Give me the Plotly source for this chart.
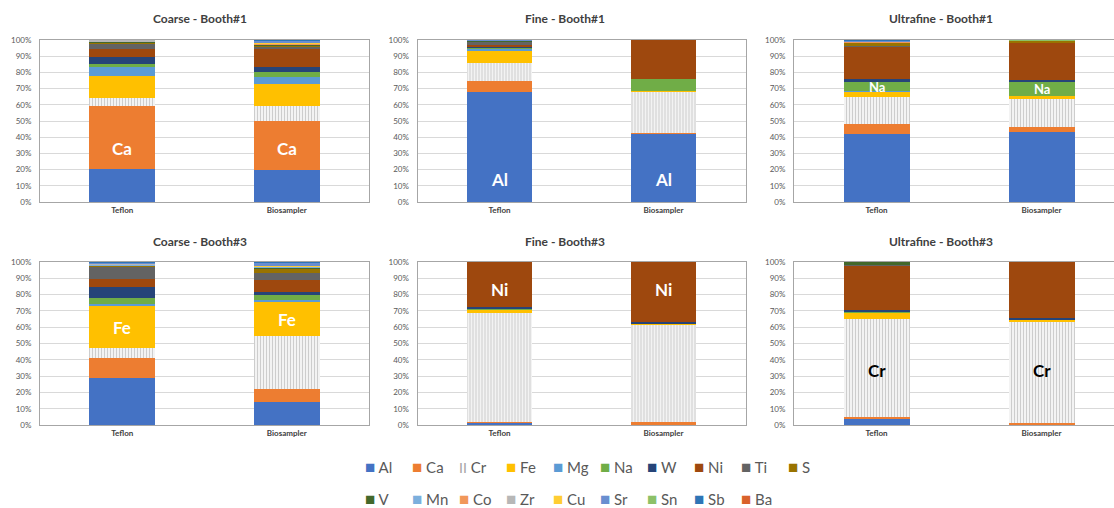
import plotly.graph_objects as go

# ---------------- data ----------------
elements = ["Al", "Ca", "Cr", "Fe", "Mg", "Na", "W", "Ni", "Ti", "S",
            "V", "Mn", "Co", "Zr", "Cu", "Sr", "Sn", "Sb", "Ba"]
colors = ["#4472C4", "#ED7D31", "#FFFFFF", "#FFC000", "#5B9BD5", "#70AD47",
          "#264478", "#9E480E", "#636363", "#997300", "#43682B", "#7CAFDD",
          "#F1975A", "#B7B7B7", "#FFCD33", "#698ED0", "#8CC168", "#2E75B6",
          "#D9622B"]
samplers = ["Teflon", "Biosampler"]
panel_titles = ["Coarse - Booth#1", "Fine - Booth#1", "Ultrafine - Booth#1",
                "Coarse - Booth#3", "Fine - Booth#3", "Ultrafine - Booth#3"]
y_ticks = [0, 10, 20, 30, 40, 50, 60, 70, 80, 90, 100]
y_tick_labels = [f"{v}%" for v in y_ticks]

#                        Al    Ca    Cr    Fe    Mg   Na   W    Ni    Ti   S    V    Mn   Co   Zr   Cu   Sr   Sn   Sb   Ba
coarse_b1_teflon     = [20.3, 39.0, 4.7, 13.8, 5.4, 1.8, 4.7, 4.7, 3.6, 0.6, 0.2, 0.1, 0.1, 1.0, 0.0, 0.0, 0.0, 0.0, 0.0]
coarse_b1_bio        = [19.5, 30.8, 9.0, 13.6, 4.5, 2.7, 3.3, 11.5, 0.5, 1.3, 0.5, 0.3, 0.2, 0.3, 0.3, 1.5, 0.1, 0.1, 0.0]
fine_b1_teflon       = [67.8, 7.2, 10.6, 7.6, 1.4, 0.5, 0.4, 1.6, 1.7, 0.5, 0.1, 0.2, 0.0, 0.2, 0.1, 0.1, 0.0, 0.0, 0.0]
fine_b1_bio          = [42.5, 0.1, 25.5, 0.3, 0.0, 7.6, 0.0, 24.0, 0.0, 0.0, 0.0, 0.0, 0.0, 0.0, 0.0, 0.0, 0.0, 0.0, 0.0]
ultrafine_b1_teflon  = [41.9, 6.1, 17.1, 3.1, 0.4, 5.7, 1.4, 20.2, 0.5, 1.8, 0.3, 0.2, 0.1, 0.3, 0.1, 0.6, 0.1, 0.1, 0.0]
ultrafine_b1_bio     = [43.5, 3.1, 16.8, 2.1, 0.2, 8.6, 1.0, 23.1, 0.2, 1.0, 0.2, 0.0, 0.0, 0.0, 0.0, 0.0, 0.2, 0.0, 0.0]
coarse_b3_teflon     = [28.6, 12.8, 5.9, 25.6, 1.6, 3.7, 6.5, 5.1, 7.5, 0.6, 0.1, 0.4, 0.1, 0.3, 0.1, 0.8, 0.1, 0.1, 0.0]
coarse_b3_bio        = [13.9, 7.9, 32.7, 21.0, 1.0, 3.5, 1.4, 7.8, 4.1, 2.7, 0.8, 0.2, 0.0, 0.2, 0.6, 2.0, 0.1, 0.1, 0.0]
fine_b3_teflon       = [1.8, 0.3, 66.7, 2.0, 0.2, 0.6, 0.8, 27.6, 0.0, 0.0, 0.0, 0.0, 0.0, 0.0, 0.0, 0.0, 0.0, 0.0, 0.0]
fine_b3_bio          = [0.3, 1.7, 59.4, 1.0, 0.0, 0.0, 0.6, 37.0, 0.0, 0.0, 0.0, 0.0, 0.0, 0.0, 0.0, 0.0, 0.0, 0.0, 0.0]
ultrafine_b3_teflon  = [3.5, 1.6, 60.2, 3.5, 0.5, 0.5, 0.6, 27.6, 0.2, 0.2, 1.6, 0.0, 0.0, 0.0, 0.0, 0.0, 0.0, 0.0, 0.0]
ultrafine_b3_bio     = [0.5, 0.5, 62.3, 1.4, 0.2, 0.0, 1.0, 34.1, 0.0, 0.0, 0.0, 0.0, 0.0, 0.0, 0.0, 0.0, 0.0, 0.0, 0.0]

panels = [
    (coarse_b1_teflon, coarse_b1_bio),
    (fine_b1_teflon, fine_b1_bio),
    (ultrafine_b1_teflon, ultrafine_b1_bio),
    (coarse_b3_teflon, coarse_b3_bio),
    (fine_b3_teflon, fine_b3_bio),
    (ultrafine_b3_teflon, ultrafine_b3_bio),
]

# in-bar labels: (panel index, text, y for Teflon, y for Biosampler, font size, color)
bar_labels = [
    (0, "Ca", 33, 33, 17, "white"),
    (1, "Al", 13.8, 13.8, 17, "white"),
    (2, "Na", 70.8, 69.6, 13, "white"),
    (3, "Fe", 59.6, 64.7, 17, "white"),
    (4, "Ni", 83, 83, 17, "white"),
    (5, "Cr", 33.5, 33.5, 17, "black"),
]

# ---------------- layout geometry ----------------
W, H = 1114, 508
FONT = "Lato, Carlito, Calibri, sans-serif"
col_px = [(40, 369), (417.5, 745.5), (794, 1114)]
col_range = [[-0.5, 1.5], [-0.5, 1.5], [-0.5, 1.439]]
row_px = [(40, 202), (262, 425)]
title_x_px = [200, 565, 941]
title_y_px = [18, 241]

fig = go.Figure()

for p, (tef, bio) in enumerate(panels):
    ax = "" if p == 0 else str(p + 1)
    for e, name in enumerate(elements):
        if name == "Cr":
            marker = dict(color="white", line=dict(width=0),
                          pattern=dict(shape="|", fgcolor="#9C9C9C", bgcolor="white",
                                       size=3, solidity=0.5))
        else:
            marker = dict(color=colors[e], line=dict(width=0))
        fig.add_trace(go.Bar(
            x=samplers, y=[tef[e], bio[e]], name=name,
            marker=marker, xaxis="x" + ax, yaxis="y" + ax,
            legendgroup=name, showlegend=False,
            hovertemplate=name + ": %{y:.1f}%<extra></extra>",
        ))

# legend entries (swatch drawn as a coloured glyph next to the element name)
for e, name in enumerate(elements):
    if name == "Cr":
        swatch = '<span style="color:#A5A5A5;font-size:14px">II</span>'
    else:
        swatch = f'<span style="color:{colors[e]};font-size:17px">■</span>'
    fig.add_trace(go.Scatter(
        x=[None], y=[None], mode="markers", name=f"{swatch} {name}",
        marker=dict(color="rgba(0,0,0,0)", size=1),
        legendgroup=name, showlegend=True, hoverinfo="skip",
        legend="legend" if e == 0 else f"legend{e + 1}",
    ))

layout = dict(
    width=W, height=H, margin=dict(l=0, r=0, t=0, b=0, autoexpand=False),
    paper_bgcolor="white", plot_bgcolor="white",
    barmode="stack", bargap=0.6,
    font=dict(family=FONT, color="#595959"),
    annotations=[],
)

for p in range(6):
    r, c = divmod(p, 3)
    ax = "" if p == 0 else str(p + 1)
    x0, x1 = col_px[c]
    y0, y1 = row_px[r]
    layout["xaxis" + ax] = dict(
        domain=[x0 / W, x1 / W], anchor="y" + ax, type="category",
        range=col_range[c], showgrid=False, ticks="",
        showline=True, linecolor="#A6A6A6", linewidth=1, mirror=True,
        tickfont=dict(size=8, color="#404040", weight="bold", family=FONT),
        fixedrange=True,
    )
    layout["yaxis" + ax] = dict(
        domain=[1 - y1 / H, 1 - y0 / H], anchor="x" + ax,
        range=[0, 100], tickmode="array", tickvals=y_ticks, ticktext=y_tick_labels,
        showgrid=True, gridcolor="#D9D9D9", gridwidth=1, zeroline=False,
        showline=True, linecolor="#A6A6A6", linewidth=1, mirror=True,
        ticks="", ticklabelstandoff=6,
        tickfont=dict(size=8, color="#595959", family=FONT),
        fixedrange=True,
    )
    layout["annotations"].append(dict(
        text=panel_titles[p], xref="paper", yref="paper",
        x=title_x_px[c] / W, y=1 - title_y_px[r] / H,
        xanchor="center", yanchor="middle", showarrow=False,
        font=dict(size=12, color="#404040", weight="bold", family=FONT),
    ))

for (p, txt, yt, yb, fs, fc) in bar_labels:
    ax = "" if p == 0 else str(p + 1)
    for xcat, yy in zip(samplers, [yt, yb]):
        layout["annotations"].append(dict(
            text=txt, xref="x" + ax, yref="y" + ax, x=xcat, y=yy,
            showarrow=False, xanchor="center", yanchor="middle",
            font=dict(size=fs, color=fc, weight="bold", family=FONT),
        ))

# one legend per element, laid out on a two-row grid
for e in range(len(elements)):
    row, col = (0, e) if e < 10 else (1, e - 10)
    sq_px = 366 + 47 * col
    key = "legend" if e == 0 else f"legend{e + 1}"
    layout[key] = dict(
        x=(sq_px - 41) / W, xanchor="left",
        y=1 - (467 if row == 0 else 499) / H, yanchor="middle",
        orientation="h", bgcolor="rgba(0,0,0,0)", borderwidth=0,
        font=dict(size=15, color="#595959", family=FONT),
    )

fig.update_layout(**layout)
fig.write_html("out.html")
